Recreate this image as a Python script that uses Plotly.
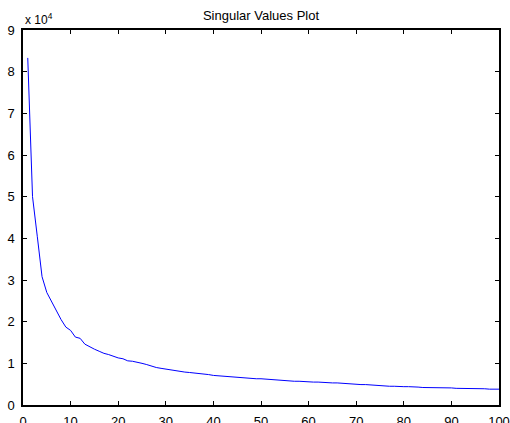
import plotly.graph_objects as go

idx = list(range(1, 101))
sv = [83300, 50000, 40500, 30800, 27000, 24800, 22600, 20500, 18700, 17900,
      16300, 16000, 14600, 13900, 13400, 12900, 12400, 12100, 11700, 11300,
      11100, 10600, 10500, 10300, 10000, 9700, 9300, 9000, 8800, 8600,
      8400, 8300, 8100, 7900, 7800, 7700, 7600, 7500, 7300, 7100,
      7000, 6900, 6800, 6700, 6600, 6600, 6500, 6400, 6300, 6300,
      6200, 6100, 6000, 6000, 5900, 5800, 5700, 5700, 5600, 5600,
      5500, 5500, 5400, 5400, 5300, 5300, 5200, 5200, 5100, 5000,
      4900, 4900, 4800, 4800, 4600, 4500, 4500, 4500, 4400, 4400,
      4400, 4400, 4300, 4200, 4200, 4200, 4200, 4100, 4100, 4100,
      4000, 4000, 4000, 3900, 3900, 3900, 3900, 3800, 3800, 3800]

xticks = list(range(0, 101, 10))
yticks = [i * 10000 for i in range(10)]
yticklabels = [str(i) for i in range(10)]

FONT = "Liberation Sans, Arial, sans-serif"

fig = go.Figure()
fig.add_trace(go.Scatter(x=idx, y=sv, mode="lines",
                         line=dict(color="rgb(0,0,255)", width=1),
                         showlegend=False, hoverinfo="skip"))

axis_common = dict(showline=True, linecolor="black", linewidth=1.5, mirror="ticks",
                   ticks="inside", ticklen=4, tickcolor="black", tickwidth=1,
                   showgrid=False, zeroline=False, automargin=False,
                   tickfont=dict(family=FONT, size=13, color="black"))

fig.update_layout(
    width=510, height=423,
    margin=dict(l=23, r=11, t=30, b=18, autoexpand=False),
    paper_bgcolor="white", plot_bgcolor="white",
    title=dict(text="Singular Values Plot", x=(23 + 499) / 2 / 510, xanchor="center",
               y=1 - 15 / 423, yanchor="middle",
               font=dict(family=FONT, size=13, color="black")),
    xaxis=dict(range=[0, 100], tickvals=xticks, ticktext=[str(t) for t in xticks],
               ticklabelstandoff=4, **axis_common),
    yaxis=dict(range=[0, 90000], tickvals=yticks, ticktext=yticklabels,
               ticklabelstandoff=4, **axis_common),
    annotations=[dict(text="x 10<sup>4</sup>", xref="paper", yref="paper", x=0, y=1,
                      xanchor="left", yanchor="bottom", showarrow=False, yshift=1,
                      font=dict(family=FONT, size=12, color="black"))],
)

fig.write_html("out.html", config={"displayModeBar": False},
               post_script="document.body.style.margin='0';document.documentElement.style.margin='0';document.body.style.overflow='hidden';")
